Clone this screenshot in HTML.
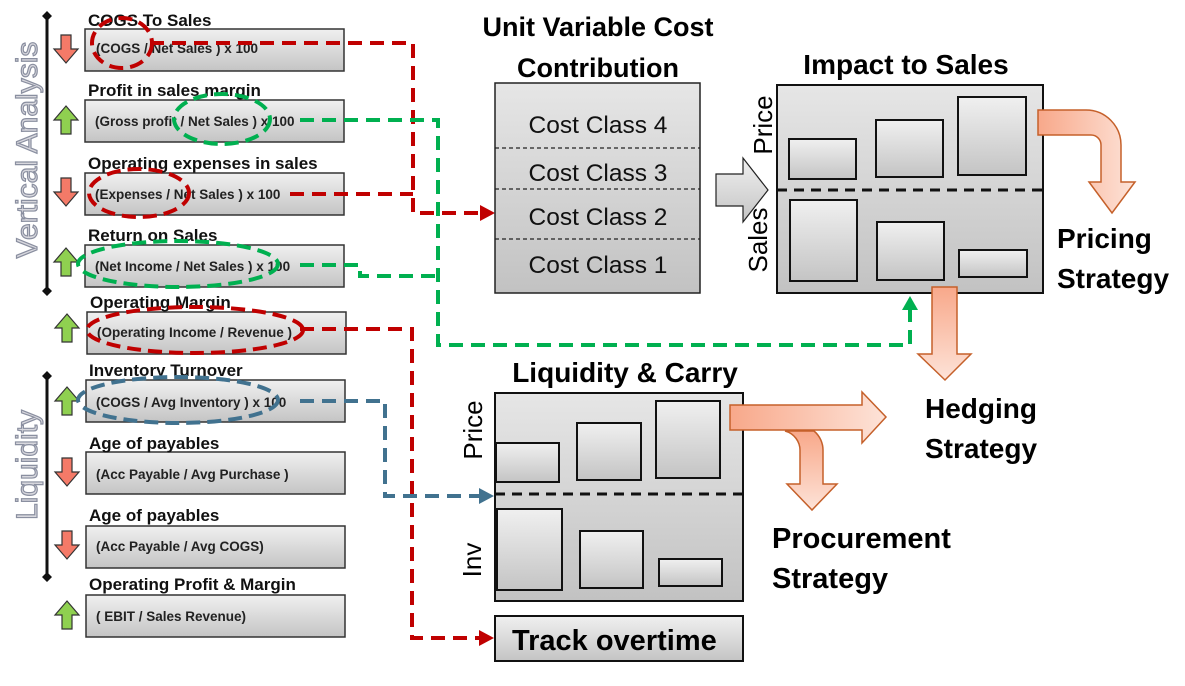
<!DOCTYPE html>
<html><head><meta charset="utf-8"><style>
body{margin:0;background:#fff;}
svg text{font-family:"Liberation Sans",Arial,sans-serif;}
</style></head><body>
<svg width="1185" height="681" viewBox="0 0 1185 681" xmlns="http://www.w3.org/2000/svg">
<defs>
<linearGradient id="g" x1="0" y1="0" x2="0" y2="1"><stop offset="0" stop-color="#f0f0f0"/><stop offset="1" stop-color="#c4c4c4"/></linearGradient>
<linearGradient id="gb" x1="0" y1="0" x2="0" y2="1"><stop offset="0" stop-color="#e6e6e6"/><stop offset="1" stop-color="#c2c2c2"/></linearGradient>
<linearGradient id="o" x1="0" y1="0" x2="1" y2="0"><stop offset="0" stop-color="#f8a88a"/><stop offset="1" stop-color="#fde3d8"/></linearGradient>
<linearGradient id="ov" x1="0" y1="0" x2="0" y2="1"><stop offset="0" stop-color="#f8a88a"/><stop offset="1" stop-color="#fde3d8"/></linearGradient>
</defs>

<line x1="47" y1="16" x2="47" y2="291" stroke="#111" stroke-width="3"/>
<path d="M47 11 l5 5 -5 5 -5 -5z M47 286 l5 5 -5 5 -5 -5z" fill="#111"/>
<line x1="47" y1="375" x2="47" y2="576" stroke="#111" stroke-width="3"/>
<path d="M47 371 l5 5 -5 5 -5 -5z M47 572 l5 5 -5 5 -5 -5z" fill="#111"/>
<text transform="translate(37,150) rotate(-90)" text-anchor="middle" font-size="30" fill="#d8d8de" stroke="#8a8fa0" stroke-width="1.2">Vertical Analysis</text>
<text transform="translate(37,465) rotate(-90)" text-anchor="middle" font-size="30" fill="#d8d8de" stroke="#8a8fa0" stroke-width="1.2">Liquidity</text>

<g font-weight="bold">
<g fill="url(#g)" stroke="#333" stroke-width="1.5">
<rect x="85" y="29" width="259" height="42"/>
<rect x="85" y="100" width="259" height="42"/>
<rect x="85" y="173" width="259" height="42"/>
<rect x="85" y="245" width="259" height="42"/>
<rect x="87" y="312" width="259" height="42"/>
<rect x="86" y="380" width="259" height="42"/>
<rect x="86" y="452" width="259" height="42"/>
<rect x="86" y="526" width="259" height="42"/>
<rect x="86" y="595" width="259" height="42"/>
</g>
<g font-size="17" fill="#111">
<text x="88" y="26">COGS To Sales</text>
<text x="88" y="96">Profit in sales margin</text>
<text x="88" y="169">Operating expenses in sales</text>
<text x="88" y="241">Return on Sales</text>
<text x="90" y="308">Operating Margin</text>
<text x="89" y="376">Inventory Turnover</text>
<text x="89" y="449">Age of payables</text>
<text x="89" y="521">Age of payables</text>
<text x="89" y="590">Operating Profit &amp; Margin</text>
</g>
<g font-size="13.5" fill="#222">
<text x="96" y="53">(COGS / Net Sales ) x 100</text>
<text x="95" y="126">(Gross  profit / Net Sales ) x 100</text>
<text x="95" y="199">(Expenses  / Net Sales ) x 100</text>
<text x="95" y="271">(Net Income / Net Sales ) x 100</text>
<text x="97" y="337">(Operating Income / Revenue )</text>
<text x="96" y="407">(COGS / Avg Inventory ) x 100</text>
<text x="96" y="479">(Acc Payable / Avg Purchase )</text>
<text x="96" y="551">(Acc Payable / Avg COGS)</text>
<text x="96" y="621">( EBIT / Sales Revenue)</text>
</g>
</g>

<g stroke="#333" stroke-width="1.2">
<path d="M61 35h10v14h7l-12 14 -12 -14h7z" fill="#f47a68"/>
<path d="M61 178h10v14h7l-12 14 -12 -14h7z" fill="#f47a68"/>
<path d="M62 458h10v14h7l-12 14 -12 -14h7z" fill="#f47a68"/>
<path d="M62 531h10v14h7l-12 14 -12 -14h7z" fill="#f47a68"/>
<path d="M66 106l12 14h-7v14h-10v-14h-7z" fill="#8fd050"/>
<path d="M66 248l12 14h-7v14h-10v-14h-7z" fill="#8fd050"/>
<path d="M67 314l12 14h-7v14h-10v-14h-7z" fill="#8fd050"/>
<path d="M67 387l12 14h-7v14h-10v-14h-7z" fill="#8fd050"/>
<path d="M67 601l12 14h-7v14h-10v-14h-7z" fill="#8fd050"/>
</g>

<g fill="none" stroke-width="4" stroke-dasharray="14,8">
<path d="M150 43H413V213H480" stroke="#c00000"/>
<path d="M290 194H413" stroke="#c00000"/>
<path d="M300 329H412V638H480" stroke="#c00000"/>
<path d="M300 120H438V345H910V310" stroke="#00b050"/>
<path d="M300 265H360V276H438" stroke="#00b050"/>
<path d="M300 401H385V496H480" stroke="#41728f"/>
</g>
<path d="M495 213l-15 -8v16z" fill="#c00000"/>
<path d="M494 638l-15 -8v16z" fill="#c00000"/>
<path d="M494 496l-15 -8v16z" fill="#41728f"/>
<path d="M910 296l-8 14h16z" fill="#00b050"/>

<g fill="none" stroke-width="4" stroke-dasharray="14,7">
<ellipse cx="122" cy="43" rx="30" ry="25" stroke="#c00000"/>
<ellipse cx="222" cy="119" rx="48" ry="25" stroke="#00b050"/>
<ellipse cx="139" cy="193" rx="50" ry="24" stroke="#c00000"/>
<ellipse cx="178" cy="264" rx="100" ry="23" stroke="#00b050"/>
<ellipse cx="195" cy="330" rx="108" ry="23" stroke="#c00000"/>
<ellipse cx="178" cy="400" rx="100" ry="23" stroke="#41728f"/>
</g>

<text x="598" y="36" text-anchor="middle" font-size="27" font-weight="bold">Unit Variable Cost</text>
<text x="598" y="77" text-anchor="middle" font-size="27" font-weight="bold">Contribution</text>
<rect x="495" y="83" width="205" height="210" fill="url(#gb)" stroke="#222" stroke-width="1.5"/>
<g stroke="#222" stroke-width="1.2" stroke-dasharray="4,3">
<line x1="495" y1="148" x2="700" y2="148"/><line x1="495" y1="189" x2="700" y2="189"/><line x1="495" y1="239" x2="700" y2="239"/>
</g>
<g font-size="24.5" text-anchor="middle" fill="#111">
<text x="598" y="133">Cost Class 4</text>
<text x="598" y="181">Cost Class 3</text>
<text x="598" y="225">Cost Class 2</text>
<text x="598" y="273">Cost Class 1</text>
</g>
<path d="M716 174h27v-16l25 32 -25 32v-16h-27z" fill="url(#g)" stroke="#222" stroke-width="1.2"/>

<text x="906" y="74" text-anchor="middle" font-size="28" font-weight="bold">Impact to Sales</text>
<rect x="777" y="85" width="266" height="208" fill="url(#gb)" stroke="#111" stroke-width="2"/>
<line x1="777" y1="190" x2="1043" y2="190" stroke="#111" stroke-width="3" stroke-dasharray="10,7"/>
<g fill="url(#g)" stroke="#111" stroke-width="2">
<rect x="789" y="139" width="67" height="40"/><rect x="876" y="120" width="67" height="57"/><rect x="958" y="97" width="68" height="78"/>
<rect x="790" y="200" width="67" height="81"/><rect x="877" y="222" width="67" height="58"/><rect x="959" y="250" width="68" height="27"/>
</g>
<text transform="translate(772,125) rotate(-90)" text-anchor="middle" font-size="26">Price</text>
<text transform="translate(767,240) rotate(-90)" text-anchor="middle" font-size="26">Sales</text>
<path d="M1038 110h48a35 35 0 0 1 35 35v37h14l-23 31 -23 -31h12v-37a10 10 0 0 0 -10 -10h-53z" fill="url(#o)" stroke="#c5602a" stroke-width="1.5"/>
<g font-size="28" font-weight="bold"><text x="1057" y="248">Pricing</text><text x="1057" y="288">Strategy</text></g>
<path d="M932 287h25v67h14l-26 26 -27 -26h14z" fill="url(#ov)" stroke="#c5602a" stroke-width="1.5"/>
<g font-size="28" font-weight="bold"><text x="925" y="418">Hedging</text><text x="925" y="458">Strategy</text></g>

<text x="625" y="382" text-anchor="middle" font-size="28" font-weight="bold">Liquidity &amp; Carry</text>
<rect x="495" y="393" width="248" height="208" fill="url(#gb)" stroke="#111" stroke-width="2"/>
<line x1="495" y1="494" x2="743" y2="494" stroke="#111" stroke-width="3" stroke-dasharray="10,7"/>
<g fill="url(#g)" stroke="#111" stroke-width="2">
<rect x="496" y="443" width="63" height="39"/><rect x="577" y="423" width="64" height="57"/><rect x="656" y="401" width="64" height="77"/>
<rect x="497" y="509" width="65" height="81"/><rect x="580" y="531" width="63" height="57"/><rect x="659" y="559" width="63" height="27"/>
</g>
<text transform="translate(482,430) rotate(-90)" text-anchor="middle" font-size="26">Price</text>
<text transform="translate(481,560) rotate(-90)" text-anchor="middle" font-size="26">Inv</text>
<path d="M785 431a20 20 0 0 1 15 20v33h-13l25 26 25 -26h-14v-33a25 25 0 0 0 -9 -20z" fill="url(#ov)" stroke="#c5602a" stroke-width="1.5"/>
<path d="M730 405h132v-13l24 25 -24 26v-13h-132z" fill="url(#o)" stroke="#c5602a" stroke-width="1.5"/>
<g font-size="29" font-weight="bold"><text x="772" y="548">Procurement</text><text x="772" y="588">Strategy</text></g>

<rect x="495" y="616" width="248" height="45" fill="url(#g)" stroke="#111" stroke-width="2"/>
<text x="512" y="650" font-size="29" font-weight="bold">Track overtime</text>
</svg>
</body></html>
